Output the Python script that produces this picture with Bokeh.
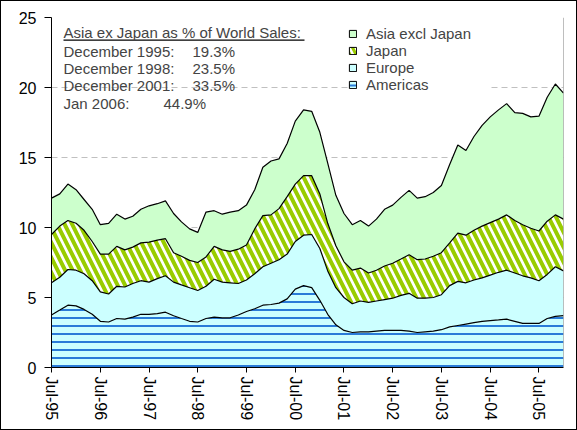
import pandas as pd
from bokeh.plotting import figure
from bokeh.models import (ColumnDataSource, Legend, LegendItem, Span, Label,
                          FixedTicker, DatetimeTickFormatter, Range1d)
from bokeh.transform import stack
from bokeh.embed import file_html
from bokeh.resources import INLINE

# ---------------- data (bi-monthly, Jul-95 .. Jan-06), $bn ----------------
dates = pd.date_range("1995-07-01", "2006-01-01", freq="2MS")

americas = [3.75, 4.10, 4.45, 4.40, 4.15, 3.80, 3.30, 3.25, 3.50, 3.45,
            3.60, 3.80, 3.80, 3.85, 3.95, 3.70, 3.50, 3.30, 3.25, 3.50,
            3.60, 3.55, 3.55, 3.75, 4.00, 4.20, 4.45, 4.50, 4.60, 4.90,
            5.60, 5.85, 5.70, 4.80, 3.80, 3.05, 2.65, 2.50, 2.55, 2.55,
            2.60, 2.65, 2.65, 2.65, 2.60, 2.50, 2.55, 2.60, 2.70, 2.90,
            3.00, 3.10, 3.20, 3.30, 3.35, 3.40, 3.45, 3.30, 3.15, 3.15,
            3.15, 3.50, 3.65, 3.70]
europe = [2.30, 2.35, 2.55, 2.55, 2.55, 2.40, 2.10, 2.00, 2.30, 2.30,
          2.40, 2.40, 2.30, 2.50, 2.60, 2.40, 2.40, 2.40, 2.25, 2.30,
          2.70, 2.55, 2.50, 2.25, 2.25, 2.50, 2.75, 2.95, 3.10, 3.20,
          3.40, 3.60, 3.80, 3.70, 3.10, 2.65, 2.35, 2.05, 2.20, 2.10,
          2.15, 2.20, 2.30, 2.50, 2.70, 2.45, 2.40, 2.40, 2.50, 2.95,
          3.15, 2.95, 3.05, 3.10, 3.25, 3.40, 3.50, 3.45, 3.40, 3.25,
          3.05, 3.15, 3.55, 3.20]
japan = [3.45, 3.65, 3.50, 3.35, 3.10, 2.80, 2.70, 2.85, 2.85, 2.65,
         2.60, 2.70, 2.85, 2.75, 2.65, 2.10, 2.05, 1.95, 2.00, 2.10,
         2.35, 2.30, 2.25, 2.45, 2.50, 3.20, 3.65, 3.45, 3.65, 4.10,
         4.10, 4.25, 4.20, 3.90, 3.40, 3.00, 2.55, 2.40, 2.35, 2.10,
         2.20, 2.40, 2.50, 2.60, 2.75, 2.75, 2.80, 2.95, 3.00, 3.05,
         3.45, 3.40, 3.55, 3.70, 3.75, 3.80, 3.95, 3.75, 3.65, 3.55,
         3.55, 3.80, 3.70, 3.70]
asia_ex_japan = [2.60, 2.30, 2.60, 2.40, 2.20, 2.30, 2.10, 2.20, 2.30, 2.20,
                 2.20, 2.40, 2.60, 2.60, 2.70, 2.80, 2.45, 2.25, 2.15, 3.20,
                 2.55, 2.55, 2.80, 2.75, 2.85, 2.80, 3.45, 3.85, 3.55, 3.80,
                 4.50, 4.70, 4.60, 4.40, 4.30, 3.60, 3.45, 3.25, 3.40, 3.35,
                 3.65, 4.05, 4.15, 4.40, 4.60, 4.40, 4.45, 4.55, 4.80, 5.60,
                 6.30, 6.05, 6.70, 7.20, 7.55, 7.80, 7.95, 7.70, 7.95, 7.95,
                 8.20, 8.85, 9.35, 9.00]

x_tick_labels = ["Jul-95", "Jul-96", "Jul-97", "Jul-98", "Jul-99", "Jul-00",
                 "Jul-01", "Jul-02", "Jul-03", "Jul-04", "Jul-05"]
y_ticks = [0, 5, 10, 15, 20, 25]

note_title = "Asia ex Japan as % of World Sales:"
note_dates = ["December 1995:", "December 1998:", "December 2001:", "Jan 2006:"]
note_values = ["19.3%", "23.5%", "33.5%", "44.9%"]

legend_labels = ["Asia excl Japan", "Japan", "Europe", "Americas"]

# ---------------- styling ----------------
FONT = "Liberation Sans"
FRAME_W, FRAME_H = 512, 350

src = ColumnDataSource(dict(date=dates, americas=americas, europe=europe,
                            japan=japan, asia=asia_ex_japan))

x_start, x_end = dates[0], dates[-1]
start_ms = x_start.value / 1e6
end_ms = x_end.value / 1e6


def px_to_x(px):
    return start_ms + px * (end_ms - start_ms) / FRAME_W


p = figure(x_axis_type="datetime", frame_width=FRAME_W, frame_height=FRAME_H,
           min_border_left=50, min_border_right=13, min_border_top=16,
           min_border_bottom=62,
           x_range=Range1d(x_start, x_end), y_range=Range1d(0, 25),
           output_backend="svg", toolbar_location=None)
p.outline_line_color = None
p.background_fill_color = "white"
p.border_fill_color = "white"
p.styles = {"border": "1px solid black"}

stackers = ["americas", "europe", "japan", "asia"]
styles = [
    dict(fill_color="#CCFFFF", hatch_pattern="-", hatch_color="#2A7BD8",
         hatch_weight=2, hatch_scale=8),
    dict(fill_color="#CCFFFF"),
    dict(fill_color="#FFFFFF", hatch_pattern="\\", hatch_color="#99CC00",
         hatch_weight=4, hatch_scale=15),
    dict(fill_color="#CCFFCC"),
]

for i, name in enumerate(stackers):
    y1 = 0 if i == 0 else stack(*stackers[:i])
    p.varea(x="date", y1=y1, y2=stack(*stackers[:i + 1]), source=src,
            **styles[i])

for i in range(1, len(stackers) + 1):
    p.line(x="date", y=stack(*stackers[:i]), source=src,
           line_color="black", line_width=1.2)

p.add_layout(Span(location=end_ms, dimension="height",
                  line_color="#7F7F7F", line_width=1))

# legend swatches: one-row renderers holding NaN (nothing drawn in the plot)
nan = float("nan")
legend_styles = [styles[3], styles[2], styles[1], styles[0]]
items = []
for lab, st in zip(legend_labels, legend_styles):
    st2 = dict(st)
    if st2.get("hatch_pattern") == "\\":
        st2.update(hatch_scale=12, hatch_weight=3)
    elif "hatch_scale" in st2:
        st2.update(hatch_scale=9, hatch_weight=2)
    r = p.quad(left=[nan], right=[nan], top=[nan], bottom=[nan],
               line_color="black", line_width=1, **st2)
    items.append(LegendItem(label=lab, renderers=[r]))

legend = Legend(items=items, location=(297, 274), orientation="vertical",
                glyph_width=9, glyph_height=9, label_standoff=9,
                label_height=17, label_width=124, spacing=0, padding=5,
                margin=0, border_line_color=None,
                background_fill_color="white", background_fill_alpha=1.0,
                label_text_font=FONT, label_text_font_size="15px")
p.add_layout(legend)

# annotation block
note_px = 12
p.add_layout(Label(x=px_to_x(note_px), y=23.94, text=note_title,
                   text_font=FONT, text_font_size="15px",
                   text_baseline="middle", text_align="left"))
p.segment(x0=[px_to_x(note_px)], x1=[px_to_x(note_px + 241)],
          y0=[23.38], y1=[23.38], line_color="black", line_width=1.3)
row_y = [22.60, 21.37, 20.13, 18.89]
val_px = [141, 141, 141, 112]
for d, v, yy, vx in zip(note_dates, note_values, row_y, val_px):
    p.add_layout(Label(x=px_to_x(note_px), y=yy, text=d, text_font=FONT,
                       text_font_size="15px", text_baseline="middle"))
    p.add_layout(Label(x=px_to_x(vx), y=yy, text=v, text_font=FONT,
                       text_font_size="15px", text_baseline="middle"))

# axes
p.yaxis.ticker = FixedTicker(ticks=y_ticks)
p.yaxis.major_label_text_font = FONT
p.yaxis.major_label_text_font_size = "16px"
p.yaxis.major_label_text_color = "black"
p.yaxis.major_tick_out = 7
p.yaxis.major_tick_in = 0
p.yaxis.minor_tick_out = 0
p.yaxis.minor_tick_in = 0
p.yaxis.major_label_standoff = 8
p.yaxis.axis_line_color = "black"
p.yaxis.major_tick_line_color = "black"

tick_dates = [pd.to_datetime(t, format="%b-%y") for t in x_tick_labels]
p.xaxis.ticker = FixedTicker(ticks=[t.value / 1e6 for t in tick_dates])
fmt = "%b-%y"
p.xaxis.formatter = DatetimeTickFormatter(
    microseconds=fmt, milliseconds=fmt, seconds=fmt, minsec=fmt, minutes=fmt,
    hourmin=fmt, hours=fmt, days=fmt, months=fmt, years=fmt)
p.xaxis.major_label_orientation = "vertical"
p.xaxis.major_label_text_font = FONT
p.xaxis.major_label_text_font_size = "16px"
p.xaxis.major_label_text_color = "black"
p.xaxis.major_tick_out = 5
p.xaxis.major_tick_in = 0
p.xaxis.minor_tick_out = 0
p.xaxis.minor_tick_in = 0
p.xaxis.major_label_standoff = 4
p.xaxis.axis_line_color = "black"
p.xaxis.major_tick_line_color = "black"

p.xgrid.grid_line_color = None
p.ygrid.ticker = FixedTicker(ticks=y_ticks[1:-1])
p.ygrid.grid_line_color = "#C0C0C0"
p.ygrid.grid_line_dash = "6 4"
p.ygrid.grid_line_width = 1

open("out.html", "w").write(file_html(p, INLINE))
